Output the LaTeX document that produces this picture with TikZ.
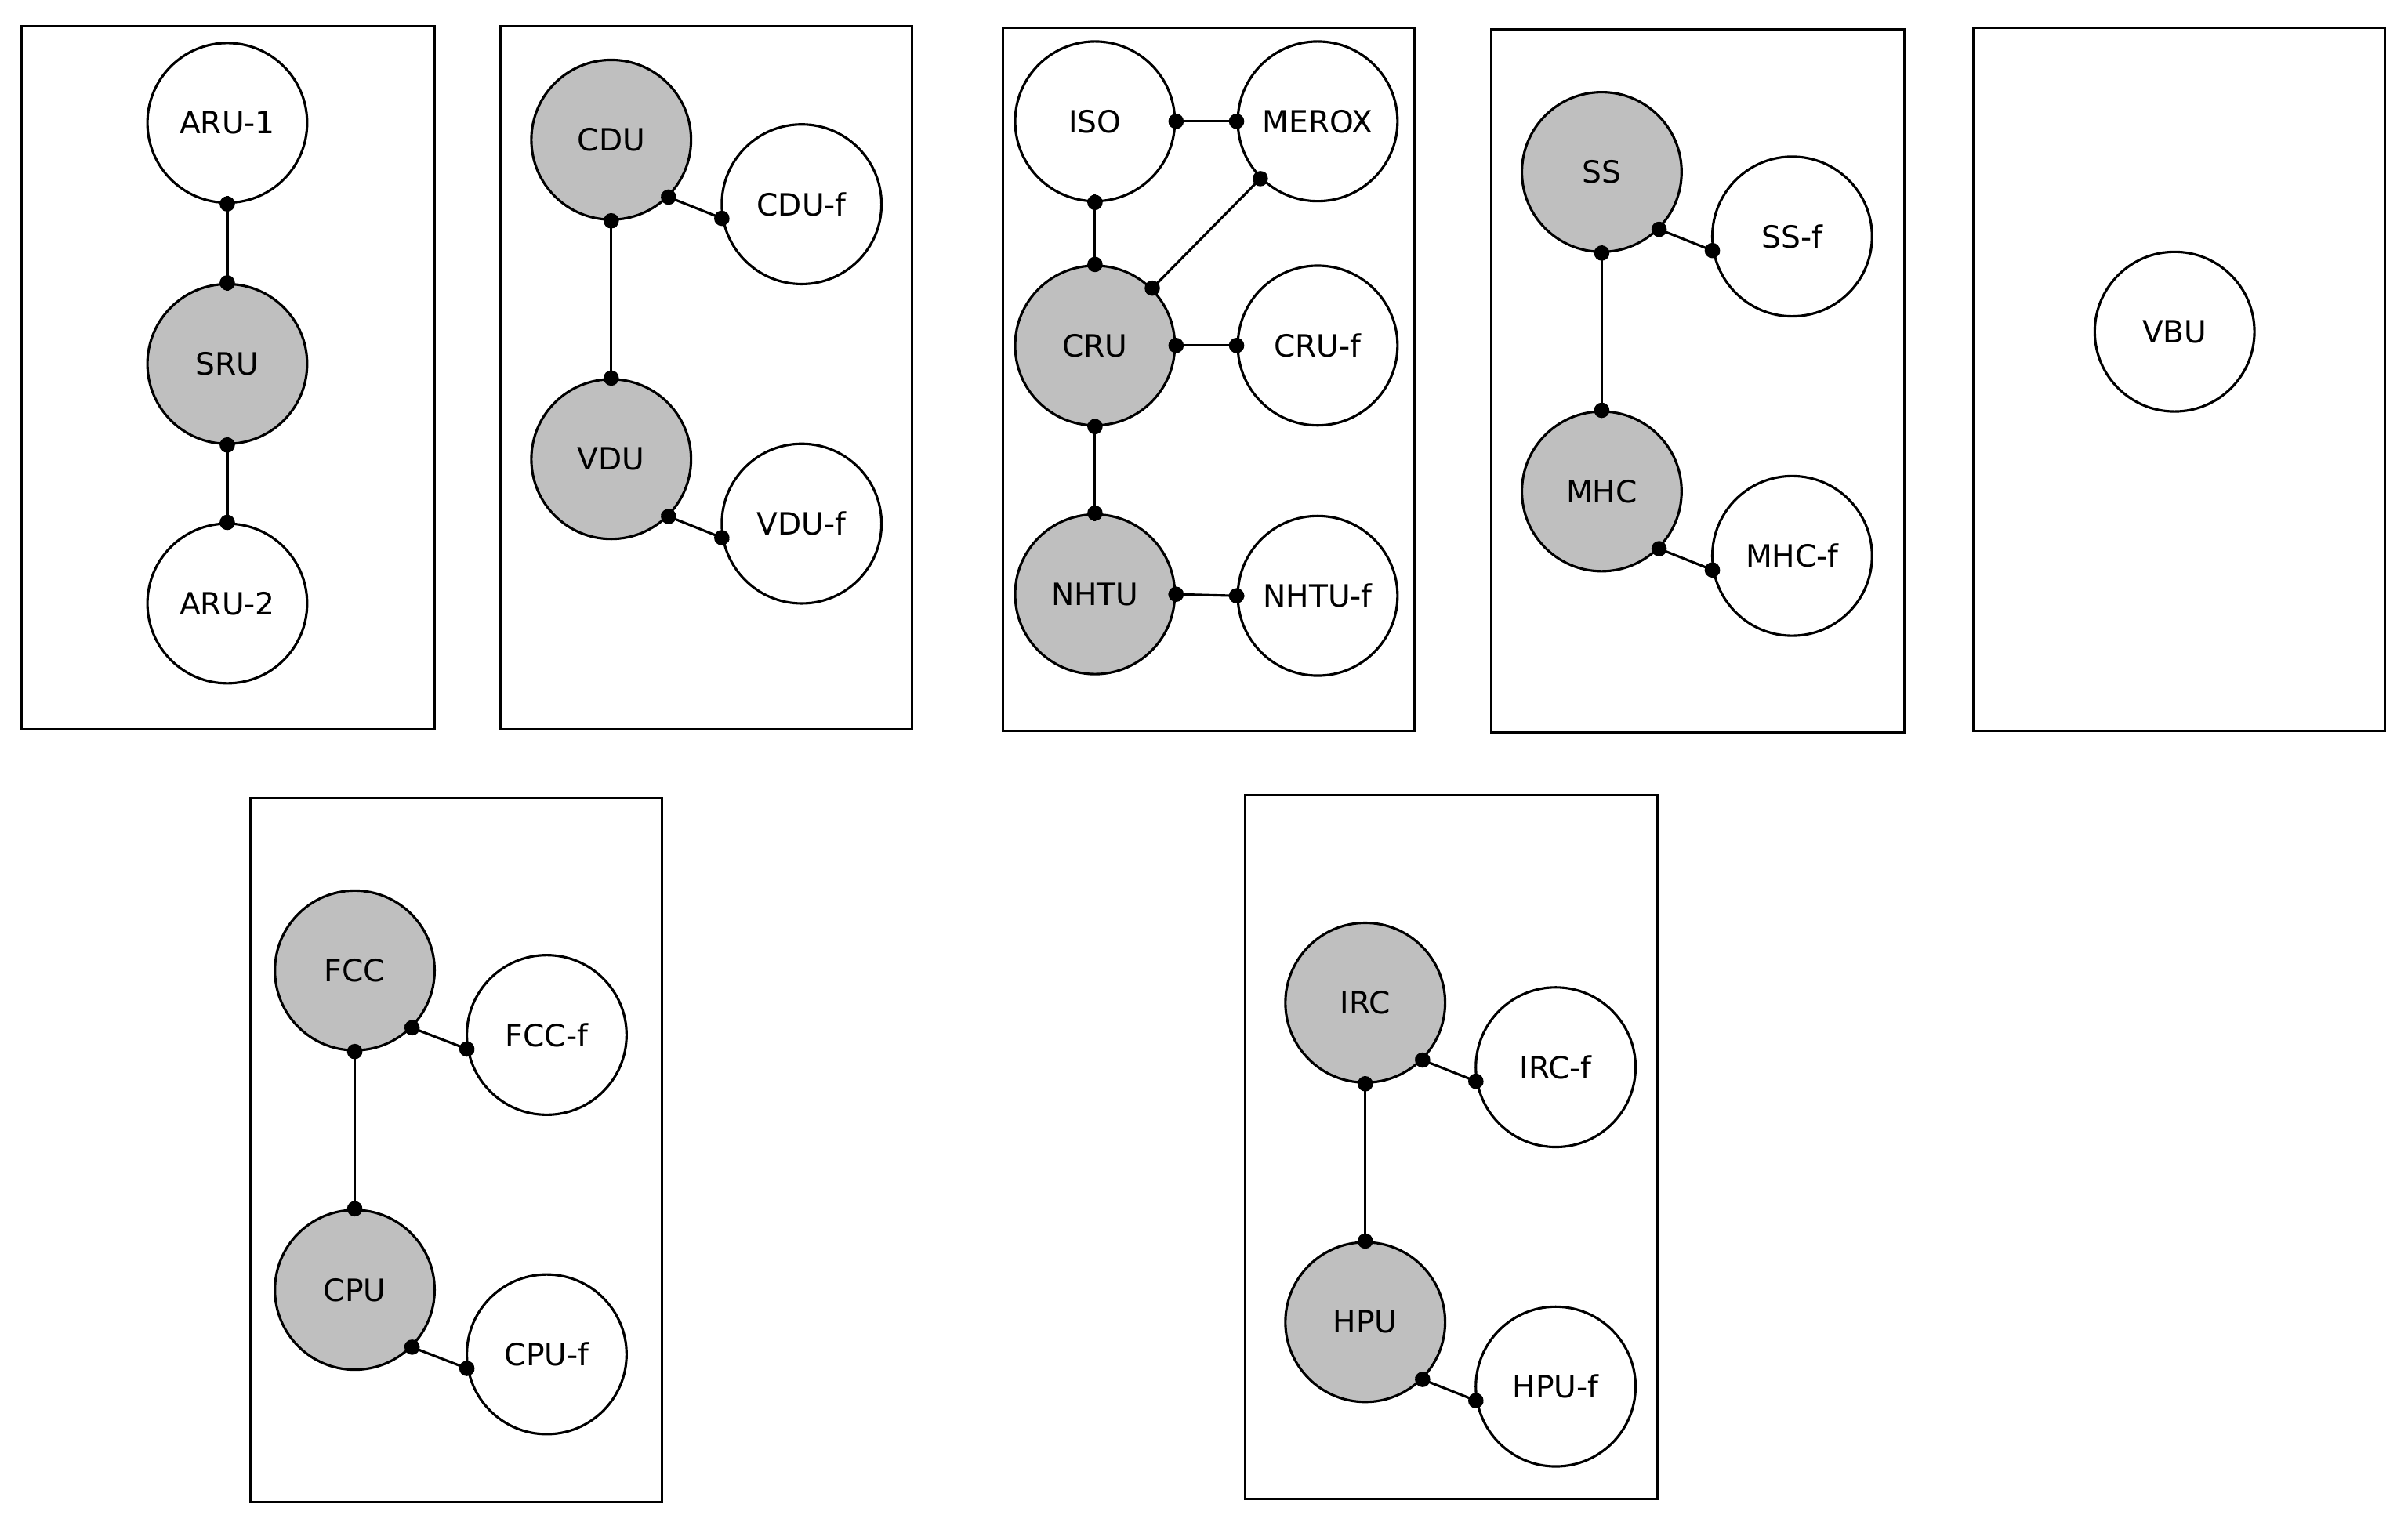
\documentclass[tikz,border=0pt]{standalone}
\usepackage{fontspec}
\setmainfont{DejaVu Sans}
\begin{document}
\begin{tikzpicture}[x=0.5pt,y=-0.5pt,
  u/.style={circle,draw,line width=0.8pt,minimum size=52pt,inner sep=0pt,font=\fontsize{10}{12}\selectfont,fill=white},
  g/.style={u,fill=black!25},
  box/.style={draw,line width=0.8pt},
  con/.style={line width=0.8pt,shorten <=-2.5pt,shorten >=-2.5pt},
  dt/.style={fill,circle,inner sep=0pt,minimum size=5pt}]
\useasboundingbox (0,0) rectangle (1568,998);
\draw[box] (14,17) rectangle (283,475);
\draw[box] (326,17) rectangle (594,475);
\draw[box] (653,18) rectangle (921,476);
\draw[box] (971,19) rectangle (1240,477);
\draw[box] (1285,18) rectangle (1553,476);
\draw[box] (163,520) rectangle (431,978);
\draw[box] (811,518) rectangle (1079,976);

\node[u] (aru1) at (148,80) {ARU-1};
\node[g] (sru) at (148,237) {SRU};
\node[u] (aru2) at (148,393) {ARU-2};
\node[g] (cdu) at (398,91) {CDU};
\node[u] (cduf) at (522,133) {CDU-f};
\node[g] (vdu) at (398,299) {VDU};
\node[u] (vduf) at (522,341) {VDU-f};
\node[u] (iso) at (713,79) {ISO};
\node[u] (merox) at (858,79) {MEROX};
\node[g] (cru) at (713,225) {CRU};
\node[u] (cruf) at (858,225) {CRU-f};
\node[g] (nhtu) at (713,387) {NHTU};
\node[u] (nhtuf) at (858,388) {NHTU-f};
\node[g] (ss) at (1043,112) {SS};
\node[u] (ssf) at (1167,154) {SS-f};
\node[g] (mhc) at (1043,320) {MHC};
\node[u] (mhcf) at (1167,362) {MHC-f};
\node[u] (vbu) at (1416,216) {VBU};
\node[g] (fcc) at (231,632) {FCC};
\node[u] (fccf) at (356,674) {FCC-f};
\node[g] (cpu) at (231,840) {CPU};
\node[u] (cpuf) at (356,882) {CPU-f};
\node[g] (irc) at (889,653) {IRC};
\node[u] (ircf) at (1013,695) {IRC-f};
\node[g] (hpu) at (889,861) {HPU};
\node[u] (hpuf) at (1013,903) {HPU-f};

\foreach \a/\b in {aru1.south/sru.north, sru.south/aru2.north,
  cdu.south/vdu.north, cdu.-45/cduf.190, vdu.-45/vduf.190,
  iso.east/merox.west, iso.south/cru.north, cru.45/merox.225, cru.east/cruf.west,
  cru.south/nhtu.north, nhtu.east/nhtuf.west,
  ss.south/mhc.north, ss.-45/ssf.190, mhc.-45/mhcf.190,
  fcc.south/cpu.north, fcc.-45/fccf.190, cpu.-45/cpuf.190,
  irc.south/hpu.north, irc.-45/ircf.190, hpu.-45/hpuf.190} {
  \draw[con] (\a) -- (\b);
  \node[dt] at (\a) {};
  \node[dt] at (\b) {};
}
\end{tikzpicture}
\end{document}
